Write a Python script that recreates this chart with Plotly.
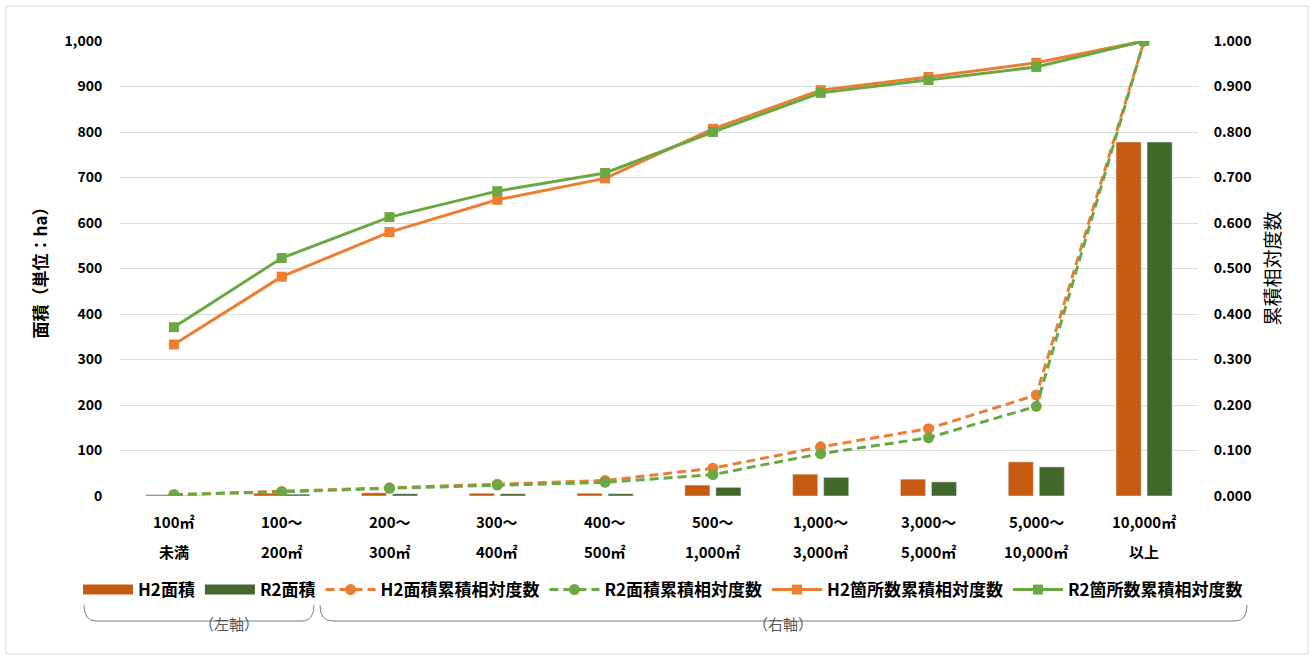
import plotly.graph_objects as go

# ---------------- data ----------------
categories = ["100㎡未満", "100～200㎡", "200～300㎡", "300～400㎡", "400～500㎡",
              "500～1,000㎡", "1,000～3,000㎡", "3,000～5,000㎡", "5,000～10,000㎡", "10,000㎡以上"]
tick_line1 = ["100㎡", "100～", "200～", "300～", "400～", "500～", "1,000～", "3,000～", "5,000～", "10,000㎡"]
tick_line2 = ["未満", "200㎡", "300㎡", "400㎡", "500㎡", "1,000㎡", "3,000㎡", "5,000㎡", "10,000㎡", "以上"]

h2_area = [3, 6, 7, 6, 6, 24, 48, 37, 75, 778]
r2_area = [1, 4, 5, 5, 5, 19, 41, 31, 64, 778]

h2_area_cum = [0.003, 0.010, 0.018, 0.026, 0.034, 0.061, 0.108, 0.148, 0.222, 1.000]
r2_area_cum = [0.003, 0.009, 0.017, 0.024, 0.030, 0.047, 0.093, 0.128, 0.197, 1.000]

h2_count_cum = [0.333, 0.482, 0.580, 0.651, 0.698, 0.807, 0.892, 0.921, 0.952, 1.000]
r2_count_cum = [0.371, 0.523, 0.613, 0.670, 0.710, 0.800, 0.886, 0.914, 0.943, 1.000]

# ---------------- styles ----------------
C_H2_BAR = "#C55A11"
C_R2_BAR = "#43682B"
C_H2_LINE = "#ED7D31"
C_R2_LINE = "#6AA843"
FONT = "Noto Sans CJK JP"

W, H = 1314, 656
L, R, T, B = 120, 1198, 41, 496  # plot area in pixels


def px(x):
    return (x - L) / (R - L)


def py(y):
    return (B - y) / (B - T)


fig = go.Figure()

fig.add_trace(go.Bar(name="H2面積", x=categories, y=h2_area, marker_color=C_H2_BAR,
                     yaxis="y", showlegend=False, legendgroup="h2bar"))
fig.add_trace(go.Bar(name="R2面積", x=categories, y=r2_area, marker_color=C_R2_BAR,
                     yaxis="y", showlegend=False, legendgroup="r2bar"))

# legend swatches for the bars (wide rectangles, as in the original)
fig.add_trace(go.Scatter(name="H2面積", x=[None], y=[None], mode="lines", yaxis="y",
                         line=dict(color=C_H2_BAR, width=11), legendgroup="h2bar"))
fig.add_trace(go.Scatter(name="R2面積", x=[None], y=[None], mode="lines", yaxis="y",
                         line=dict(color=C_R2_BAR, width=11), legendgroup="r2bar"))

fig.add_trace(go.Scatter(name="H2面積累積相対度数", x=categories, y=h2_area_cum, yaxis="y2",
                         mode="lines+markers",
                         line=dict(color=C_H2_LINE, width=3, dash="9px,5px"),
                         marker=dict(symbol="circle", size=11, color=C_H2_LINE)))
fig.add_trace(go.Scatter(name="R2面積累積相対度数", x=categories, y=r2_area_cum, yaxis="y2",
                         mode="lines+markers",
                         line=dict(color=C_R2_LINE, width=3, dash="9px,5px"),
                         marker=dict(symbol="circle", size=11, color=C_R2_LINE)))
fig.add_trace(go.Scatter(name="H2箇所数累積相対度数", x=categories, y=h2_count_cum, yaxis="y2",
                         mode="lines+markers",
                         line=dict(color=C_H2_LINE, width=3),
                         marker=dict(symbol="square", size=10, color=C_H2_LINE)))
fig.add_trace(go.Scatter(name="R2箇所数累積相対度数", x=categories, y=r2_count_cum, yaxis="y2",
                         mode="lines+markers",
                         line=dict(color=C_R2_LINE, width=3),
                         marker=dict(symbol="square", size=10, color=C_R2_LINE)))

annotations = []
for c, t1, t2 in zip(categories, tick_line1, tick_line2):
    annotations.append(dict(x=c, xref="x", y=py(521), yref="paper", text=t1, showarrow=False,
                            xanchor="center", yanchor="middle",
                            font=dict(family=FONT, size=15, color="#000", weight="bold")))
    annotations.append(dict(x=c, xref="x", y=py(551), yref="paper", text=t2, showarrow=False,
                            xanchor="center", yanchor="middle",
                            font=dict(family=FONT, size=15, color="#000", weight="bold")))

annotations.append(dict(x=px(197), xref="paper", y=py(636), yref="paper", text="（左軸）",
                        showarrow=False, font=dict(family=FONT, size=15, color="#595959")))
annotations.append(dict(x=px(783), xref="paper", y=py(636), yref="paper", text="（右軸）",
                        showarrow=False, font=dict(family=FONT, size=15, color="#595959")))


def bracket(x0, x1, ytop, ybot, r=12):
    X0, X1 = px(x0), px(x1)
    Yt, Yb = py(ytop), py(ybot)
    Xr0, Xr1 = px(x0 + r), px(x1 - r)
    return (f"M {X0},{Yt} Q {X0},{Yb} {Xr0},{Yb} L {Xr1},{Yb} Q {X1},{Yb} {X1},{Yt}")


shapes = [
    dict(type="path", xref="paper", yref="paper", path=bracket(84, 314, 605, 621),
         line=dict(color="#7F7F7F", width=1)),
    dict(type="path", xref="paper", yref="paper", path=bracket(320, 1247, 605, 621),
         line=dict(color="#7F7F7F", width=1)),
    dict(type="rect", xref="paper", yref="paper", x0=px(6), x1=px(1308), y0=py(654), y1=py(6),
         line=dict(color="#D9D9D9", width=1), layer="below"),
]

fig.update_layout(
    width=W, height=H,
    margin=dict(l=L, r=W - R, t=T, b=H - B),
    paper_bgcolor="white", plot_bgcolor="white",
    barmode="group", bargap=0.425, bargroupgap=0.19,
    font=dict(family=FONT, size=14, color="#000"),
    showlegend=True,
    legend=dict(orientation="h", x=px(78), xanchor="left", y=py(590), yanchor="middle",
                font=dict(family=FONT, size=17, color="#000", weight="bold"),
                itemwidth=50, tracegroupgap=0, bgcolor="rgba(0,0,0,0)",
                traceorder="normal"),
    xaxis=dict(type="category", range=[-0.5, len(categories) - 0.5], showticklabels=False,
               showgrid=False, showline=False, zeroline=False, ticks=""),
    yaxis=dict(range=[0, 1000], dtick=100, tickformat=",", gridcolor="#DDDDDD", gridwidth=1,
               showline=False, zeroline=False, ticks="outside", ticklen=14,
               tickcolor="rgba(0,0,0,0)",
               tickfont=dict(family=FONT, size=14, color="#000", weight="bold"),
               title=dict(text="面積（単位：ha）", standoff=12,
                          font=dict(family=FONT, size=17, color="#000", weight="bold"))),
    yaxis2=dict(range=[0, 1], dtick=0.1, tickformat=".3f", overlaying="y", side="right",
                showgrid=False, showline=False, zeroline=False, ticks="outside", ticklen=12,
                tickcolor="rgba(0,0,0,0)",
                tickfont=dict(family=FONT, size=14, color="#000", weight="bold"),
                title=dict(text="累積相対度数", standoff=16,
                           font=dict(family=FONT, size=19, color="#000", weight="normal"))),
    annotations=annotations,
    shapes=shapes,
)

fig.write_html("out.html", config={"displayModeBar": False},
               post_script="document.body.style.margin='0';")
